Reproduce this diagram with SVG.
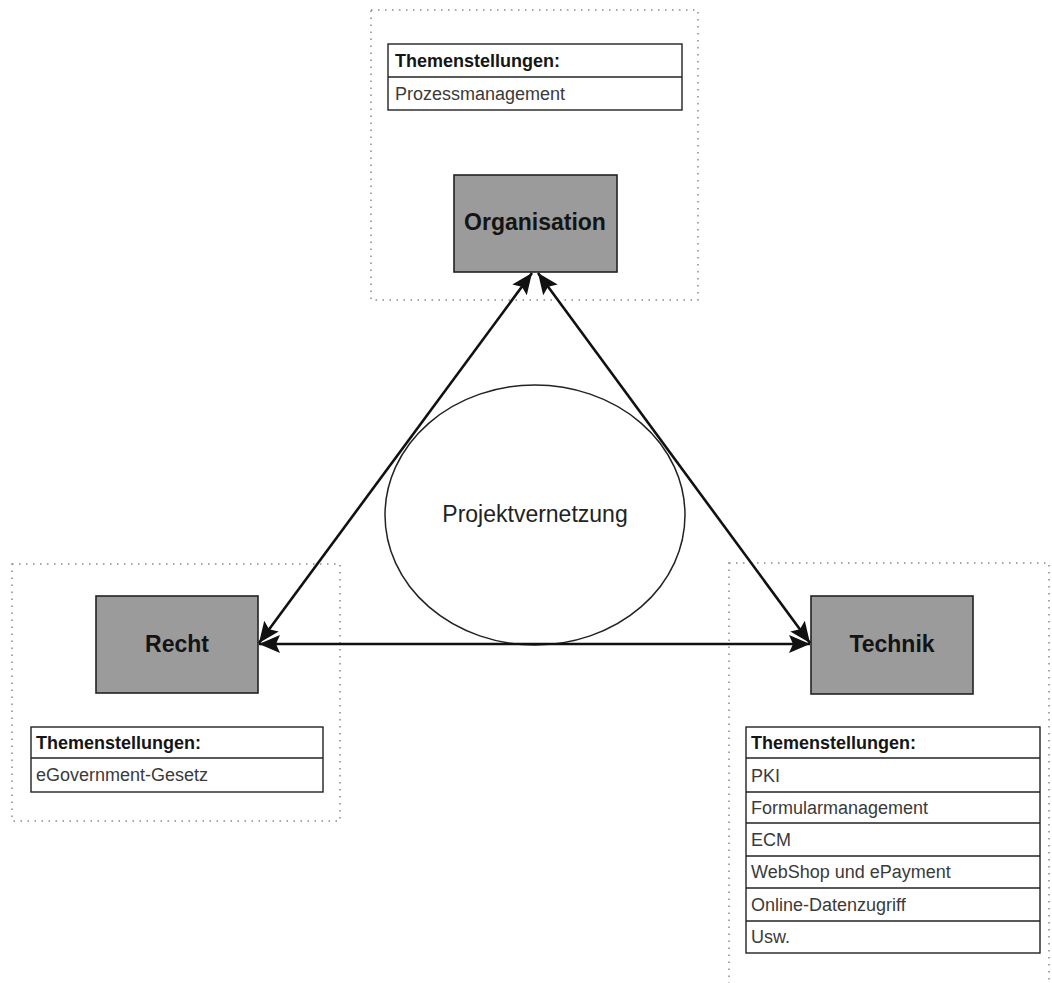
<svg xmlns="http://www.w3.org/2000/svg" width="1052" height="983" viewBox="0 0 1052 983">
  <style>
    .area { fill: none; stroke: #8a8a8a; stroke-width: 1.5; stroke-dasharray: 1.5 5.5; }
    .node { fill: #9b9b9b; stroke: #222; stroke-width: 1.6; }
    .label { font-family: "Liberation Sans", Arial, sans-serif; font-weight: bold; font-size: 23px; fill: #141414; text-anchor: middle; }
    .tbl { fill: #fff; stroke: #222; stroke-width: 1.4; }
    .row { stroke: #222; stroke-width: 1.4; }
    .th { font-family: "Liberation Sans", Arial, sans-serif; font-weight: bold; font-size: 18px; fill: #151515; }
    .td { font-family: "Liberation Sans", Arial, sans-serif; font-size: 18px; fill: #3a3a3a; }
    .conn { stroke: #111; stroke-width: 2.6; fill: none; marker-start: url(#ah); marker-end: url(#ah); }
  </style>
  <defs>
    <marker id="ah" markerUnits="userSpaceOnUse" markerWidth="22" markerHeight="20" viewBox="0 0 22 20" refX="21" refY="10" orient="auto-start-reverse">
      <path d="M0,1 L21,10 L0,19 L4,10 Z" fill="#111"/>
    </marker>
  </defs>
  <rect width="1052" height="983" fill="#fff"/>

  <g id="ellipse-projektvernetzung">
    <ellipse cx="535" cy="515" rx="150" ry="130" fill="#fff" stroke="#222" stroke-width="1.5"/>
    <text x="535" y="522" font-family="Liberation Sans, Arial, sans-serif" font-size="23" fill="#222" text-anchor="middle">Projektvernetzung</text>
  </g>

  <g id="organisation">
    <rect class="area" x="371" y="10" width="327" height="290"/>
    <rect class="tbl" x="388" y="44" width="294" height="66"/>
    <line class="row" x1="388" y1="77" x2="682" y2="77"/>
    <text class="th" x="395" y="67">Themenstellungen:</text>
    <text class="td" x="395" y="100">Prozessmanagement</text>
    <rect class="node" x="454" y="175" width="163" height="97"/>
    <text class="label" x="535" y="230">Organisation</text>
  </g>

  <g id="recht">
    <rect class="area" x="12" y="564" width="328" height="257"/>
    <rect class="node" x="96" y="596" width="162" height="97"/>
    <text class="label" x="177" y="652">Recht</text>
    <rect class="tbl" x="31" y="727" width="292" height="65"/>
    <line class="row" x1="31" y1="758" x2="323" y2="758"/>
    <text class="th" x="36" y="749">Themenstellungen:</text>
    <text class="td" x="36" y="781">eGovernment-Gesetz</text>
  </g>

  <g id="technik">
    <rect class="area" x="729" y="563" width="320" height="440"/>
    <rect class="node" x="811" y="596" width="162" height="98"/>
    <text class="label" x="892" y="652">Technik</text>
    <rect class="tbl" x="746" y="727" width="294" height="226"/>
    <line class="row" x1="746" y1="758" x2="1040" y2="758"/>
    <line class="row" x1="746" y1="792" x2="1040" y2="792"/>
    <line class="row" x1="746" y1="823" x2="1040" y2="823"/>
    <line class="row" x1="746" y1="856" x2="1040" y2="856"/>
    <line class="row" x1="746" y1="888" x2="1040" y2="888"/>
    <line class="row" x1="746" y1="921" x2="1040" y2="921"/>
    <text class="th" x="751" y="749">Themenstellungen:</text>
    <text class="td" x="751" y="782">PKI</text>
    <text class="td" x="751" y="814">Formularmanagement</text>
    <text class="td" x="751" y="846">ECM</text>
    <text class="td" x="751" y="878">WebShop und ePayment</text>
    <text class="td" x="751" y="911">Online-Datenzugriff</text>
    <text class="td" x="751" y="943">Usw.</text>
  </g>

  <g id="connectors">
    <path class="conn" d="M259,644 L810,644"/>
    <path class="conn" d="M259,643 L532,273"/>
    <path class="conn" d="M810,643 L538,273"/>
  </g>
</svg>
